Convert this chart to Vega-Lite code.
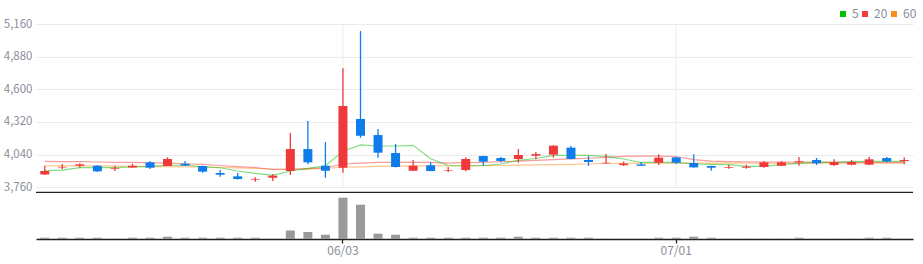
{
  "$schema": "https://vega.github.io/schema/vega-lite/v6.json",
  "width": 877,
  "height": 215,
  "autosize": {"type": "none"},
  "padding": {"left": 36, "top": 24, "right": 10, "bottom": 25},
  "config": {"view": {"stroke": null}, "font": "Noto Sans CJK KR"},
  "data": {"values": [
    {"d":"05/09","o":3870,"h":3945,"l":3865,"c":3900,"m5":3902,"m20":3983,"m60":3945,"v":13000},
    {"d":"05/10","o":3930,"h":3960,"l":3915,"c":3935,"m5":3908,"m20":3981,"m60":3944,"v":13000},
    {"d":"05/13","o":3945,"h":3966,"l":3928,"c":3957,"m5":3928,"m20":3980,"m60":3944,"v":13000},
    {"d":"05/14","o":3945,"h":3948,"l":3891,"c":3897,"m5":3928,"m20":3977,"m60":3943,"v":13000},
    {"d":"05/15","o":3920,"h":3945,"l":3900,"c":3926,"m5":3928,"m20":3974,"m60":3942,"v":2000},
    {"d":"05/16","o":3930,"h":3962,"l":3928,"c":3945,"m5":3934,"m20":3973,"m60":3940,"v":13000},
    {"d":"05/17","o":3974,"h":3985,"l":3917,"c":3928,"m5":3940,"m20":3970,"m60":3938,"v":13000},
    {"d":"05/20","o":3943,"h":4017,"l":3943,"c":4003,"m5":3949,"m20":3967,"m60":3937,"v":23000},
    {"d":"05/21","o":3962,"h":3985,"l":3943,"c":3947,"m5":3949,"m20":3962,"m60":3936,"v":13000},
    {"d":"05/22","o":3943,"h":3945,"l":3885,"c":3894,"m5":3937,"m20":3956,"m60":3934,"v":13000},
    {"d":"05/23","o":3883,"h":3908,"l":3851,"c":3868,"m5":3928,"m20":3947,"m60":3930,"v":13000},
    {"d":"05/24","o":3854,"h":3883,"l":3828,"c":3831,"m5":3900,"m20":3938,"m60":3927,"v":13000},
    {"d":"05/27","o":3826,"h":3846,"l":3808,"c":3832,"m5":3880,"m20":3930,"m60":3923,"v":13000},
    {"d":"05/28","o":3842,"h":3874,"l":3814,"c":3860,"m5":3863,"m20":3913,"m60":3917,"v":2000},
    {"d":"05/29","o":3900,"h":4225,"l":3865,"c":4088,"m5":3900,"m20":3915,"m60":3915,"v":86000},
    {"d":"05/30","o":4088,"h":4328,"l":3957,"c":3974,"m5":3923,"m20":3920,"m60":3916,"v":70000},
    {"d":"05/31","o":3945,"h":4148,"l":3842,"c":3902,"m5":3945,"m20":3928,"m60":3922,"v":43000},
    {"d":"06/03","o":3928,"h":4780,"l":3885,"c":4457,"m5":4069,"m20":3960,"m60":3932,"v":413000},
    {"d":"06/04","o":4346,"h":5100,"l":4185,"c":4202,"m5":4123,"m20":3968,"m60":3936,"v":343000},
    {"d":"06/05","o":4208,"h":4260,"l":4014,"c":4057,"m5":4114,"m20":3973,"m60":3939,"v":53000},
    {"d":"06/07","o":4054,"h":4131,"l":3930,"c":3934,"m5":4114,"m20":3974,"m60":3941,"v":43000},
    {"d":"06/10","o":3902,"h":3994,"l":3900,"c":3945,"m5":4120,"m20":3974,"m60":3943,"v":13000},
    {"d":"06/11","o":3949,"h":3974,"l":3898,"c":3900,"m5":4005,"m20":3973,"m60":3944,"v":13000},
    {"d":"06/12","o":3900,"h":3934,"l":3891,"c":3905,"m5":3947,"m20":3968,"m60":3945,"v":13000},
    {"d":"06/13","o":3908,"h":4017,"l":3897,"c":4003,"m5":3943,"m20":3971,"m60":3945,"v":13000},
    {"d":"06/14","o":4028,"h":4030,"l":3945,"c":3980,"m5":3947,"m20":3974,"m60":3946,"v":13000},
    {"d":"06/17","o":4011,"h":4020,"l":3974,"c":3986,"m5":3960,"m20":3979,"m60":3947,"v":13000},
    {"d":"06/18","o":4003,"h":4088,"l":3971,"c":4037,"m5":3991,"m20":3985,"m60":3950,"v":23000},
    {"d":"06/19","o":4031,"h":4063,"l":4000,"c":4045,"m5":4007,"m20":3991,"m60":3953,"v":13000},
    {"d":"06/20","o":4040,"h":4120,"l":4014,"c":4117,"m5":4033,"m20":3998,"m60":3955,"v":13000},
    {"d":"06/21","o":4100,"h":4114,"l":4000,"c":4003,"m5":4035,"m20":4003,"m60":3957,"v":13000},
    {"d":"06/24","o":3994,"h":4028,"l":3945,"c":3977,"m5":4034,"m20":4009,"m60":3960,"v":13000},
    {"d":"06/25","o":3966,"h":4045,"l":3963,"c":3971,"m5":4026,"m20":4017,"m60":3964,"v":2000},
    {"d":"06/26","o":3950,"h":3980,"l":3943,"c":3963,"m5":4003,"m20":4026,"m60":3966,"v":2000},
    {"d":"06/27","o":3957,"h":3974,"l":3943,"c":3945,"m5":3973,"m20":4028,"m60":3968,"v":2000},
    {"d":"06/28","o":3971,"h":4043,"l":3951,"c":4014,"m5":3974,"m20":4028,"m60":3968,"v":13000},
    {"d":"07/01","o":4017,"h":4020,"l":3960,"c":3971,"m5":3974,"m20":4024,"m60":3968,"v":13000},
    {"d":"07/02","o":3968,"h":4043,"l":3928,"c":3931,"m5":3960,"m20":3998,"m60":3968,"v":23000},
    {"d":"07/03","o":3943,"h":3945,"l":3902,"c":3928,"m5":3957,"m20":3985,"m60":3968,"v":13000},
    {"d":"07/04","o":3928,"h":3954,"l":3920,"c":3934,"m5":3954,"m20":3981,"m60":3968,"v":2000},
    {"d":"07/05","o":3928,"h":3954,"l":3920,"c":3937,"m5":3940,"m20":3979,"m60":3968,"v":2000},
    {"d":"07/08","o":3934,"h":3985,"l":3928,"c":3974,"m5":3940,"m20":3977,"m60":3968,"v":2000},
    {"d":"07/09","o":3945,"h":3985,"l":3943,"c":3974,"m5":3954,"m20":3977,"m60":3968,"v":2000},
    {"d":"07/10","o":3974,"h":4020,"l":3945,"c":3983,"m5":3966,"m20":3977,"m60":3968,"v":13000},
    {"d":"07/11","o":3994,"h":4011,"l":3951,"c":3966,"m5":3974,"m20":3977,"m60":3968,"v":2000},
    {"d":"07/12","o":3951,"h":4000,"l":3943,"c":3977,"m5":3974,"m20":3975,"m60":3968,"v":2000},
    {"d":"07/15","o":3954,"h":3994,"l":3949,"c":3977,"m5":3980,"m20":3974,"m60":3968,"v":2000},
    {"d":"07/16","o":3954,"h":4023,"l":3949,"c":4000,"m5":3983,"m20":3974,"m60":3968,"v":13000},
    {"d":"07/17","o":4011,"h":4020,"l":3974,"c":3983,"m5":3983,"m20":3974,"m60":3968,"v":13000},
    {"d":"07/18","o":3985,"h":4017,"l":3957,"c":3994,"m5":3983,"m20":3974,"m60":3968,"v":2000}
  ]},
  "layer": [
    {
      "layer": [
        {
          "mark": {"type": "rule", "color": "#ececec", "strokeWidth": 1},
          "transform": [{"filter": {"field": "d", "oneOf": ["06/03", "07/01"]}}],
          "encoding": {
            "x": {"field": "d", "type": "ordinal", "sort": "ascending", "scale": {"paddingInner": 0, "paddingOuter": 0},
                  "axis": {"title": null, "values": ["06/03", "07/01"], "labelAngle": 0, "grid": false, "bandPosition": 0.5, "domainColor": "#222222", "domainWidth": 1.3, "tickColor": "#222222", "tickWidth": 1.3, "tickSize": 4, "labelColor": "#8a8e99", "labelFontSize": 12, "labelPadding": 2}},
            "y": {"datum": 3760, "type": "quantitative", "scale": {"domain": [3317, 5160], "nice": false, "zero": false},
                  "axis": {"title": null, "values": [3760, 4040, 4320, 4600, 4880, 5160], "format": ",d", "domain": false, "ticks": false, "labelPadding": 4, "labelColor": "#8a8e99", "labelFontSize": 11.5, "grid": true, "gridColor": "#ebebeb"}},
            "y2": {"datum": 5160}
          }
        },
        {
          "mark": {"type": "rule", "color": "#222222", "strokeWidth": 1.3},
          "transform": [{"aggregate": [{"op": "count", "as": "n"}]}],
          "encoding": {"y": {"datum": 3717, "type": "quantitative"}}
        },
        {
          "transform": [{"fold": ["m60", "m20", "m5"], "as": ["ma", "val"]}],
          "mark": {"type": "line", "strokeWidth": 1.2, "opacity": 0.5},
          "encoding": {
            "x": {"field": "d", "type": "ordinal", "sort": "ascending"},
            "y": {"field": "val", "type": "quantitative"},
            "color": {"field": "ma", "type": "nominal",
                      "scale": {"domain": ["m5", "m20", "m60"], "range": ["#00c000", "#f03c3c", "#ff8c1a"]},
                      "legend": {"title": null, "orient": "none", "legendX": 801, "legendY": -16, "direction": "horizontal", "gridAlign": "none",
                                 "symbolType": "square", "symbolSize": 36, "symbolStrokeWidth": 0, "symbolOpacity": 1,
                                 "labelFontSize": 12, "labelColor": "#8a8e99", "labelOffset": 3, "columnPadding": 0, "padding": 0,
                                 "labelExpr": "replace(datum.label, 'm', '')",
                                 "encode": {"symbols": {"update": {"fill": {"scale": "color", "field": "value"}, "opacity": {"value": 1}, "fillOpacity": {"value": 1}}}}}}
          }
        },
        {
          "mark": {"type": "rule", "strokeWidth": 1.3},
          "encoding": {
            "x": {"field": "d", "type": "ordinal", "sort": "ascending"},
            "y": {"field": "l", "type": "quantitative"},
            "y2": {"field": "h"},
            "color": {"condition": {"test": "datum.c >= datum.o", "value": "#f0393b"}, "value": "#0f7de9"}
          }
        },
        {
          "mark": {"type": "bar", "width": 9},
          "encoding": {
            "x": {"field": "d", "type": "ordinal", "sort": "ascending"},
            "y": {"field": "o", "type": "quantitative"},
            "y2": {"field": "c"},
            "color": {"condition": {"test": "datum.c >= datum.o", "value": "#f0393b"}, "value": "#0f7de9"}
          }
        }
      ]
    },
    {
      "mark": {"type": "bar", "width": 9, "color": "#9a9a9a"},
      "encoding": {
        "x": {"field": "d", "type": "ordinal", "sort": "ascending"},
        "y": {"field": "v", "type": "quantitative", "scale": {"domain": [0, 2150000], "nice": false, "zero": false}, "axis": null}
      }
    }
  ],
  "resolve": {"scale": {"y": "independent"}}
}
